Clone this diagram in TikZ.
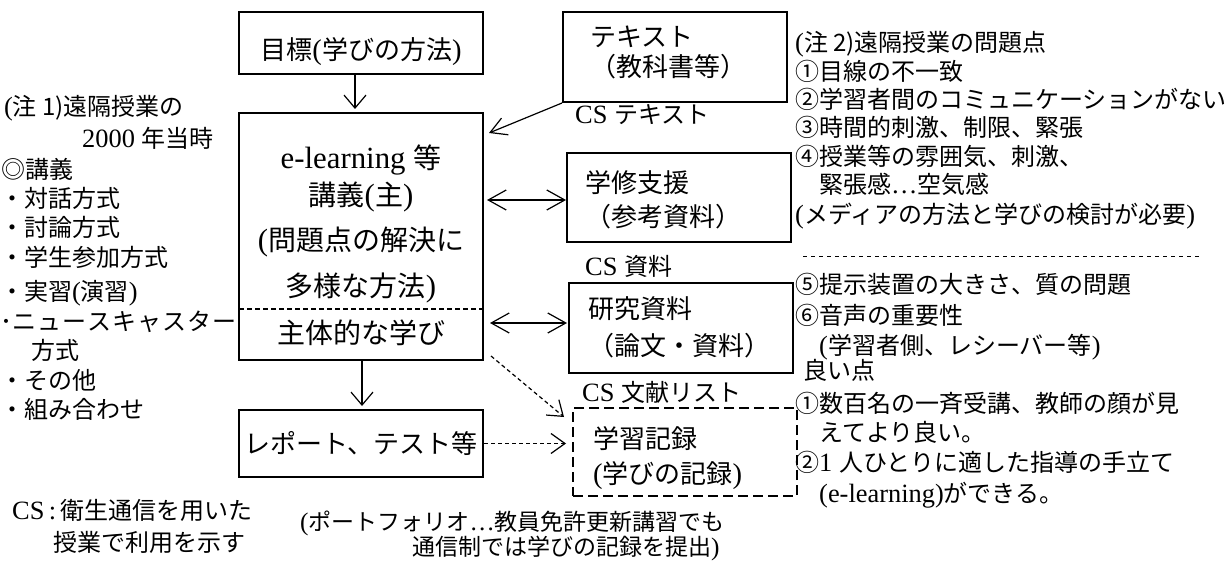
\documentclass[tikz,border=0pt]{standalone}
\usepackage{fontspec}
\setmainfont{Liberation Serif}[Scale=1.1]
\newfontfamily\cjkfont{Noto Sans CJK JP}
\usetikzlibrary{arrows.meta}
% automatic switch between Latin (Liberation Serif) and Japanese (Noto Sans CJK JP)
\XeTeXinterchartokenstate=1
\newXeTeXintercharclass\jcls
\newcount\jcnt
\def\setjrange#1#2{\jcnt=#1\relax\loop\XeTeXcharclass\jcnt=\jcls\relax\ifnum\jcnt<#2\relax\advance\jcnt by 1\relax\repeat}
\setjrange{"3000}{"30FF}
\setjrange{"4E00}{"9FFF}
\setjrange{"FF00}{"FFEF}
\setjrange{"2460}{"24FF}
\XeTeXcharclass"25CE=\jcls
\XeTeXinterchartoks 0 \jcls = {\cjkfont}
\XeTeXinterchartoks 4095 \jcls = {\cjkfont}
\XeTeXinterchartoks \jcls 0 = {\rmfamily}
\tikzset{
  bx/.style={draw, line width=2pt, inner sep=0pt},
  dbx/.style={draw, line width=2pt, inner sep=0pt, dash pattern=on 10pt off 5pt},
  arr/.style={line width=1.2pt, -{Straight Barb[length=13pt,width=22pt]}},
  darr/.style={line width=1.2pt, {Straight Barb[length=18pt,width=20pt]}-{Straight Barb[length=18pt,width=20pt]}},
  diagarr/.style={line width=1.2pt, -{Straight Barb[length=16pt,width=18pt]}},
  dsharr/.style={line width=1.2pt, dash pattern=on 4pt off 3pt, -{Straight Barb[length=14pt,width=20pt]}},
  tl/.style={inner sep=0pt, anchor=base west},
  tc/.style={inner sep=0pt, anchor=base},
  fN/.style={font=\fontsize{24}{28}\selectfont},
  fS/.style={font=\fontsize{23}{27}\selectfont},
  fB/.style={font=\fontsize{26}{30}\selectfont},
  fM/.style={font=\fontsize{28}{34}\selectfont},
}
\begin{document}
\begin{tikzpicture}[x=1pt,y=-1pt]
\useasboundingbox (0,0) rectangle (1231,561);
% boxes
\node[bx, minimum width=244pt, minimum height=62pt] (goal) at (361,43) {};
\node[bx, minimum width=244pt, minimum height=247pt] (main) at (361,236.5) {};
\node[bx, minimum width=244pt, minimum height=67pt] (report) at (361,443.5) {};
\node[bx, minimum width=224pt, minimum height=90pt] (text) at (675,57) {};
\node[bx, minimum width=224pt, minimum height=89pt] (study) at (679,197.5) {};
\node[bx, minimum width=224pt, minimum height=90pt] (research) at (681,328) {};
\node[dbx, minimum width=224pt, minimum height=88pt] (record) at (685,452) {};
% separator in main box
\coordinate (sepL) at (239,309);
\coordinate (sepR) at (483,309);
\draw[line width=1.2pt, dash pattern=on 5pt off 3pt] (sepL) -- (sepR);
% box texts
\node[tc, fB] (goalT) at (361,60) {目標(学びの方法)};
\node[tc, fM] (m1) at (361,169) {e-learning 等};
\node[tc, fM] (m2) at (361,206) {講義(主)};
\node[tc, fM] (m3) at (361,251) {(問題点の解決に};
\node[tc, fM] (m4) at (361,297) {多様な方法)};
\node[tc, fM] (m5) at (361,343) {主体的な学び};
\node[tc, fB] (repT) at (361,453) {レポート、テスト等};
\node[tl, fB] (tx1) at (590,47) {テキスト};
\node[tl, fB] (tx2) at (590,77) {（教科書等）};
\node[tl, fB] (st1) at (585,193) {学修支援};
\node[tl, fB] (st2) at (585,227) {（参考資料）};
\node[tl, fB] (rs1) at (588,318) {研究資料};
\node[tl, fB] (rs2) at (588,355) {（論文・資料）};
\node[tl, fB] (rc1) at (593,448) {学習記録};
\node[tl, fB] (rc2) at (593,483) {(学びの記録)};
% CS labels
\node[tl, fN] (cs1) at (575,124) {CS テキスト};
\node[tl, fN] (cs2) at (585,276) {CS 資料};
\node[tl, fN] (cs3) at (582,401) {CS 文献リスト};
% arrows
\draw[arr, shorten >=3pt] ([xshift=-6pt]goal.south) -- ([xshift=-6pt]main.north);
\draw[arr, shorten >=3pt] ([xshift=1pt]main.south) -- ([xshift=1pt]report.north);
\coordinate (txtip) at (489,133);
\draw[diagarr] (text.south west) -- (txtip);
\draw[darr] ([xshift=3pt]main.east |- 0,200) -- (study.west |- 0,200);
\draw[darr] ([xshift=6pt]main.east |- 0,323) -- ([xshift=-1pt]research.west |- 0,323);
\draw[dsharr] ([shift={(7,-5)}]main.south east) -- ([shift={(-8,10)}]record.north west);
\draw[dsharr, shorten >=6pt] (report.east) -- (record.west |- report.east);
% left notes
\node[tl, fN] (l1) at (4,116) {(注 1)遠隔授業の};
\node[tl, fN] (l2) at (82,148) {2000 年当時};
\node[tl, fN] (l3) at (1,179) {◎講義};
\node[tl, fN] (l4) at (0,208) {・対話方式};
\node[tl, fN] (l5) at (0,237) {・討論方式};
\node[tl, fN] (l6) at (0,267) {・学生参加方式};
\node[tl, fN] (l7) at (0,301) {・実習(演習)};
\node[tl, fN] (l8) at (0,330) {･ニ\kern1ptュ\kern1ptー\kern1ptス\kern1ptキ\kern1ptャ\kern1ptス\kern1ptタ\kern1ptー};
\node[tl, fN] (l9) at (31,359) {方式};
\node[tl, fN] (l10) at (0,389) {・その他};
\node[tl, fN] (l11) at (0,418) {・組み合わせ};
% footnotes
\node[tl, fN] (f1) at (12,519) {CS\,:\,衛生通信を用いた};
\node[tl, fN] (f2) at (53,551) {授業で利用を示す};
\node[tl, fS] (c1) at (300,530) {(ポートフォリオ…教員免許更新講習でも};
\node[tl, fS] (c2) at (412,555) {通信制では学びの記録を提出)};
% right notes
\node[tl, fN] (r1) at (795,52) {(注 2)遠隔授業の問題点};
\node[tl, fN] (r2) at (795,81) {①目線の不一致};
\node[tl, fN] (r3) at (795,109) {②学習者間のコミュニケーションがない};
\node[tl, fN] (r4) at (795,137) {③時間的刺激、制限、緊張};
\node[tl, fN] (r5) at (795,166) {④授業等の雰囲気、刺激、};
\node[tl, fN] (r6) at (819,194) {緊張感…空気感};
\node[tl, fN] (r7) at (795,224) {(メディアの方法と学びの検討が必要)};
\coordinate (dl) at (803,257);
\coordinate (dr) at (1200,257);
\draw[line width=1pt, dash pattern=on 4pt off 4pt] (dl) -- (dr);
\node[tl, fN] (r8) at (795,294) {⑤提示装置の大きさ、質の問題};
\node[tl, fN] (r9) at (795,324) {⑥音声の重要性};
\node[tl, fN] (r10) at (819,354) {(学習者側、レシーバー等)};
\node[tl, fN] (r11) at (803,379) {良い点};
\node[tl, fN] (r12) at (795,412) {①数百名の一斉受講、教師の顔が見};
\node[tl, fN] (r13) at (819,441) {えてより良い。};
\node[tl, fN] (r14) at (795,471) {②1 人ひとりに適した指導の手立て};
\node[tl, fN] (r15) at (819,502) {(e-learning)ができる。};
\end{tikzpicture}
\end{document}
